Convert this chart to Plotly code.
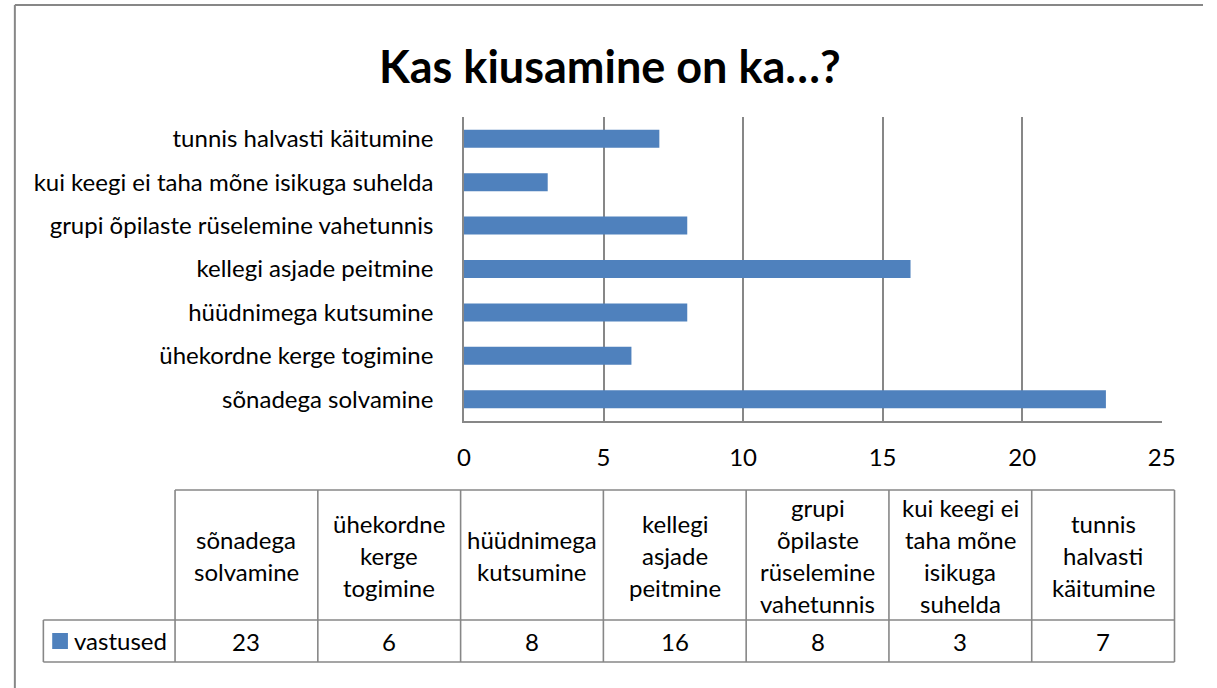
import plotly.graph_objects as go

W, H = 1217, 688

categories = ['sõnadega solvamine', 'ühekordne kerge togimine', 'hüüdnimega kutsumine',
              'kellegi asjade peitmine', 'grupi õpilaste rüselemine vahetunnis',
              'kui keegi ei taha mõne isikuga suhelda', 'tunnis halvasti käitumine']
values = [23, 6, 8, 16, 8, 3, 7]
header_lines = [['sõnadega', 'solvamine'], ['ühekordne', 'kerge', 'togimine'], ['hüüdnimega', 'kutsumine'],
                ['kellegi', 'asjade', 'peitmine'], ['grupi', 'õpilaste', 'rüselemine', 'vahetunnis'],
                ['kui keegi ei', 'taha mõne', 'isikuga', 'suhelda'], ['tunnis', 'halvasti', 'käitumine']]
series_name = 'vastused'
title = 'Kas kiusamine on ka…?'

bar_color = '#4F81BD'
line_color = '#878787'
font = 'Lato, Carlito, Calibri, sans-serif'
fs = 24


def px(x):
    return x / W


def py(y):
    return 1 - y / H


fig = go.Figure()
fig.add_trace(go.Bar(x=values, y=categories, orientation='h', marker=dict(color=bar_color, line=dict(width=0)),
                     name=series_name, showlegend=False))

shapes = []
annotations = []

# outer chart border (only left and top are inside the picture)
shapes.append(dict(type='line', xref='paper', yref='paper', x0=px(8), x1=px(8), y0=py(5), y1=0,
                   line=dict(color=line_color, width=2)))
shapes.append(dict(type='line', xref='paper', yref='paper', x0=px(8), x1=1, y0=py(5), y1=py(5),
                   line=dict(color=line_color, width=2)))

# data table
tab_left, tab_right = 171, 1188
col_w = (tab_right - tab_left) / len(values)
top, mid, bottom = 490, 620, 662
key_left = 37
hl = dict(color=line_color, width=1.6)
shapes.append(dict(type='line', xref='paper', yref='paper', x0=px(tab_left), x1=px(tab_right), y0=py(top), y1=py(top), line=hl))
for yy in (mid, bottom):
    shapes.append(dict(type='line', xref='paper', yref='paper', x0=px(key_left), x1=px(tab_right), y0=py(yy), y1=py(yy), line=hl))
shapes.append(dict(type='line', xref='paper', yref='paper', x0=px(key_left), x1=px(key_left), y0=py(mid), y1=py(bottom), line=hl))
for i in range(len(values) + 1):
    xx = tab_left + i * col_w
    shapes.append(dict(type='line', xref='paper', yref='paper', x0=px(xx), x1=px(xx), y0=py(top), y1=py(bottom), line=hl))

line_gap = 32
for i, lines in enumerate(header_lines):
    cx = tab_left + (i + 0.5) * col_w
    first = (top + mid) / 2 - (len(lines) - 1) * line_gap / 2
    for j, ln in enumerate(lines):
        annotations.append(dict(text=ln, x=px(cx), y=py(first + j * line_gap), xref='paper', yref='paper',
                                showarrow=False, xanchor='center', yanchor='middle',
                                font=dict(family=font, size=fs, color='black')))
    annotations.append(dict(text=str(values[i]), x=px(cx), y=py((mid + bottom) / 2), xref='paper', yref='paper',
                            showarrow=False, xanchor='center', yanchor='middle',
                            font=dict(family=font, size=fs, color='black')))

# legend key in the table
shapes.append(dict(type='rect', xref='paper', yref='paper', x0=px(46), x1=px(62), y0=py(633), y1=py(649),
                   fillcolor=bar_color, line=dict(width=0)))
annotations.append(dict(text=series_name, x=px(66), y=py(640), xref='paper', yref='paper', showarrow=False,
                        xanchor='left', yanchor='middle', font=dict(family=font, size=fs, color='black')))

annotations.append(dict(text='<b>' + title + '</b>', x=px(614), y=py(66), xref='paper', yref='paper',
                        showarrow=False, xanchor='center', yanchor='middle',
                        font=dict(family=font, size=45, color='black')))

fig.update_layout(
    width=W, height=H, margin=dict(l=0, r=0, t=0, b=0),
    paper_bgcolor='white', plot_bgcolor='white',
    bargap=0.585, shapes=shapes, annotations=annotations,
    font=dict(family=font, size=fs, color='black'),
    xaxis=dict(domain=[px(465), px(1175)], range=[0, 25], dtick=5, tick0=0, showgrid=True,
               gridcolor=line_color, gridwidth=1.6, zeroline=False, showline=True, linecolor=line_color,
               linewidth=1.6, ticks='', ticklabelstandoff=14, tickfont=dict(family=font, size=fs, color='black')),
    yaxis=dict(domain=[py(421), py(117)], showgrid=False, zeroline=False, showline=True, linecolor=line_color,
               linewidth=1.6, ticks='', ticklabelstandoff=24, tickfont=dict(family=font, size=fs, color='black')),
)

fig.write_html('out.html', config={'displayModeBar': False},
               post_script="document.body.style.margin='0';document.body.style.overflow='hidden';")
